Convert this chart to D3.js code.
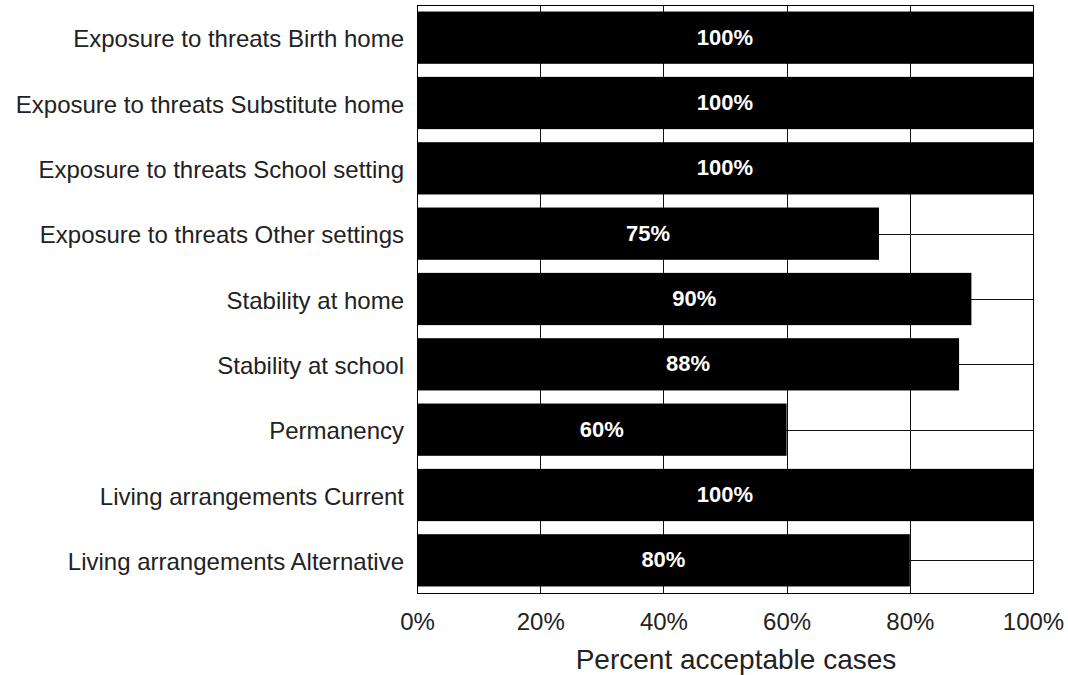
<!DOCTYPE html>
<html>
<head>
<meta charset="utf-8">
<script src="https://cdn.jsdelivr.net/npm/d3@7"></script>
<style>
  html, body { margin: 0; padding: 0; background: #fff; }
  svg { display: block; }
  text { font-family: "Liberation Sans", Arial, sans-serif; }
</style>
</head>
<body>
<svg id="chart" width="1068" height="675"></svg>
<script>
// Categories, top to bottom
const categories = [
  "Exposure to threats Birth home",
  "Exposure to threats Substitute home",
  "Exposure to threats School setting",
  "Exposure to threats Other settings",
  "Stability at home",
  "Stability at school",
  "Permanency",
  "Living arrangements Current",
  "Living arrangements Alternative"
];
// Percent acceptable cases per category
const values = [100, 100, 100, 75, 90, 88, 60, 100, 80];
const tickValues = [0, 20, 40, 60, 80, 100];
const axisTitle = "Percent acceptable cases";

const svg = d3.select("#chart");
const plot = { left: 417, right: 1033, top: 5, bottom: 593 };

const x = d3.scaleLinear().domain([0, 100]).range([plot.left, plot.right]);
const y = d3.scaleBand().domain(categories).range([plot.top, plot.bottom])
  .paddingInner(0.2).paddingOuter(0.1);

// Horizontal grid lines through each category centre
svg.append("g").selectAll("line").data(categories).join("line")
  .attr("x1", plot.left).attr("x2", plot.right)
  .attr("y1", d => Math.round(y(d) + y.bandwidth() / 2) + 0.5)
  .attr("y2", d => Math.round(y(d) + y.bandwidth() / 2) + 0.5)
  .attr("stroke", "#111").attr("stroke-width", 1);

// Vertical grid lines at the inner ticks
svg.append("g").selectAll("line").data(tickValues.slice(1, -1)).join("line")
  .attr("x1", d => Math.round(x(d)) + 0.5).attr("x2", d => Math.round(x(d)) + 0.5)
  .attr("y1", plot.top).attr("y2", plot.bottom)
  .attr("stroke", "#111").attr("stroke-width", 1);

// Bars
svg.append("g").selectAll("rect").data(values).join("rect")
  .attr("x", x(0))
  .attr("y", (d, i) => y(categories[i]))
  .attr("width", d => x(d) - x(0))
  .attr("height", y.bandwidth())
  .attr("fill", "#000");

// Value labels centred in each bar
svg.append("g").selectAll("text").data(values).join("text")
  .attr("x", d => (x(0) + x(d)) / 2)
  .attr("y", (d, i) => y(categories[i]) + y.bandwidth() / 2 + 7)
  .attr("text-anchor", "middle")
  .attr("fill", "#fff")
  .attr("font-weight", "bold")
  .attr("font-size", 22)
  .text(d => d + "%");

// Plot frame
svg.append("rect")
  .attr("x", plot.left + 0.5).attr("y", plot.top + 0.5)
  .attr("width", plot.right - plot.left).attr("height", plot.bottom - plot.top)
  .attr("fill", "none").attr("stroke", "#000").attr("stroke-width", 1);

// Category axis (labels only)
const yAxis = svg.append("g")
  .attr("transform", `translate(${plot.left},2)`)
  .call(d3.axisLeft(y).tickSize(0).tickPadding(13));
yAxis.select(".domain").remove();
yAxis.selectAll("text")
  .attr("font-family", "'Liberation Sans', Arial, sans-serif")
  .attr("font-size", 24)
  .attr("fill", "#222");

// Value axis (labels only)
const xAxis = svg.append("g")
  .attr("transform", `translate(0,${plot.bottom})`)
  .call(d3.axisBottom(x).tickValues(tickValues).tickSize(0).tickPadding(20)
    .tickFormat(d => d + "%"));
xAxis.select(".domain").remove();
xAxis.selectAll("text")
  .attr("font-family", "'Liberation Sans', Arial, sans-serif")
  .attr("font-size", 24)
  .attr("fill", "#222");

// Axis title
svg.append("text")
  .attr("x", 736)
  .attr("y", 669)
  .attr("text-anchor", "middle")
  .attr("font-size", 28)
  .attr("fill", "#222")
  .text(axisTitle);
</script>
</body>
</html>
